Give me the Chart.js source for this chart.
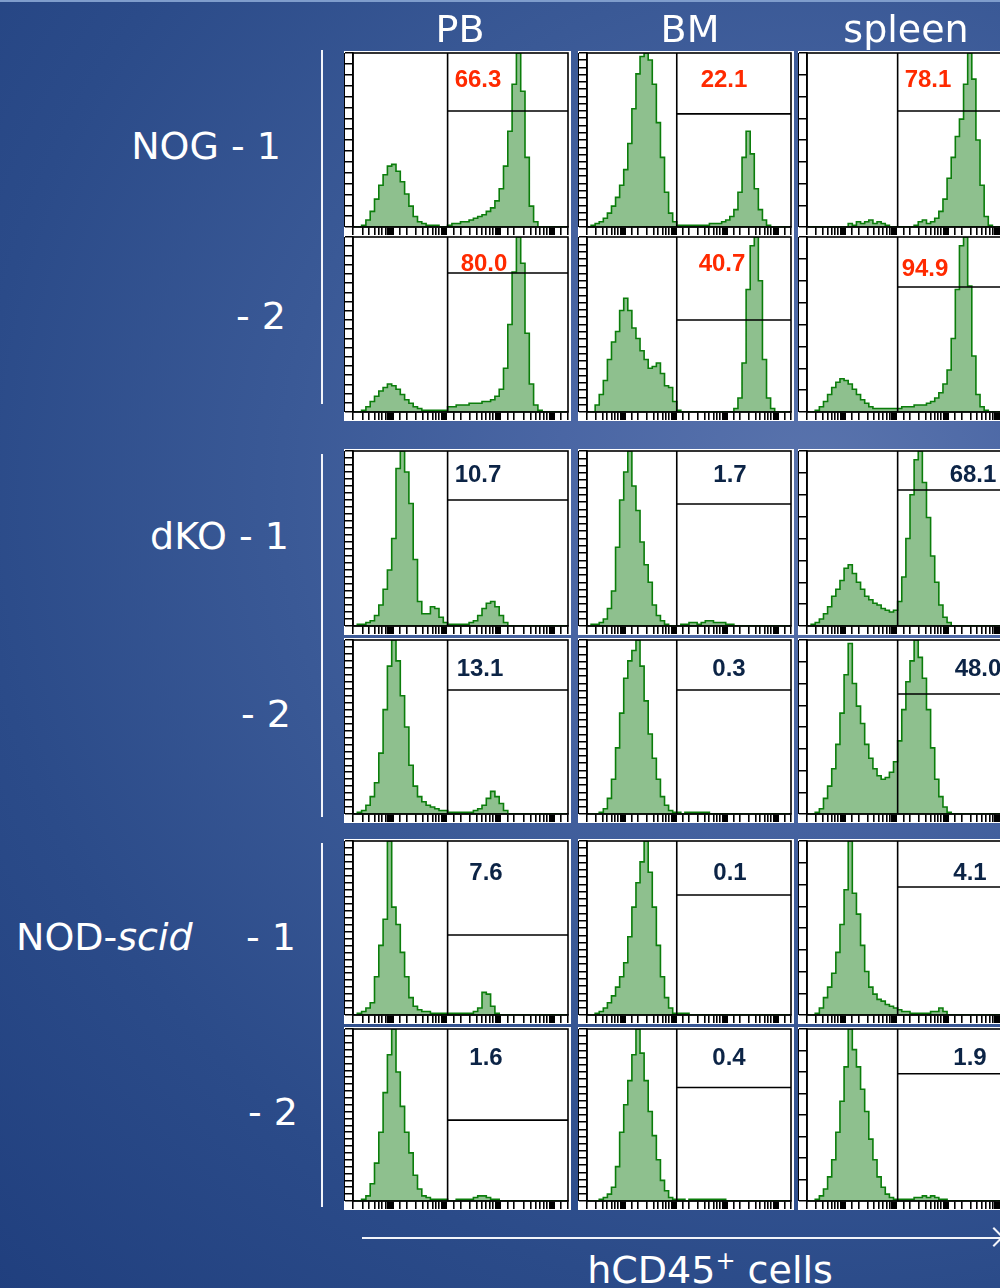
<!DOCTYPE html>
<html>
<head>
<meta charset="utf-8">
<script src="https://cdn.jsdelivr.net/npm/chart.js@4.4.0/dist/chart.umd.min.js"></script>
<style>
  html, body { margin: 0; padding: 0; width: 1000px; height: 1288px; overflow: hidden; }
  #page {
    position: relative; width: 1000px; height: 1288px; overflow: hidden;
    border-top: 2px solid #7f9dcc; box-sizing: border-box;
    background: radial-gradient(ellipse 120% 90% at 82% 38%, #5a74ad 0%, #4a66a4 22%, #3a5996 45%, #2b4b89 70%, #1f3e7d 100%);
    font-family: "DejaVu Sans", Verdana, sans-serif; color: #fff;
  }
  #page canvas { position: absolute; background: #fff; }
  .txt { position: absolute; white-space: pre; }
  .big { font-size: 38px; line-height: 38px; }
  .pct { font-family: "Liberation Sans", Arial, sans-serif; font-weight: bold; font-size: 24px;
         line-height: 24px; transform: translate(-50%, -50%); }
  .vline { position: absolute; width: 2px; background: #f2f4fa; }
</style>
</head>
<body>
<div id="page"></div>
<script>
// tissues (columns) and mice (rows)
const tissues = ["PB", "BM", "spleen"];
const percents = [
  [66.3, 22.1, 78.1],
  [80.0, 40.7, 94.9],
  [10.7, 1.7, 68.1],
  [13.1, 0.3, 48.0],
  [7.6, 0.1, 4.1],
  [1.6, 0.4, 1.9]
];

// gate: threshold bin and height of the marker (per cent of the y range)
const gateBin = 22;
const gateHeights = [
  [66.7, 65, 66.7],
  [79.4, 52.6, 71.4],
  [72, 69.7, 77.7],
  [71.3, 71.3, 69],
  [46, 69, 73.6],
  [47, 66, 74]
];

// histograms, 50 bins each
const nog1PB = [0,0,1,4,9,16,24,30,35,36, 32,26,19,12,6,3,2,1,1,1, 0,0,1,2,2,3,3,4,5,6, 7,9,11,15,22,35,55,82,100,78, 40,12,3,0,0,0,0,0,0,0];
const nog1BM = [0,1,2,3,5,8,12,17,24,33, 48,68,88,98,100,96,82,60,40,20, 8,3,1,1,1,1,1,1,1,1, 2,2,2,3,4,6,10,20,40,55, 42,22,10,4,1,0,0,0,0,0];
const nog1Spleen = [0,0,0,0,0,0,0,0,0,0, 2,1,3,2,3,4,2,3,2,1, 0,0,0,0,0,0,1,3,4,2, 3,5,9,16,28,40,52,62,82,100, 85,50,24,6,1,0,0,0,0,0];

const nog2PB = [0,0,1,3,6,9,12,14,16,15, 13,10,7,5,3,2,1,1,1,1, 1,1,3,3,4,4,4,5,5,5, 6,6,7,9,13,25,50,80,100,85, 45,16,4,1,0,0,0,0,0,0];
const nog2BM = [0,0,4,10,18,30,40,46,58,65, 58,48,42,35,30,25,26,28,22,15, 14,6,1,0,0,0,0,0,0,0, 0,0,0,0,0,0,2,8,28,70, 95,100,75,30,8,2,0,0,0,0];
const nog2Spleen = [0,0,1,3,6,10,14,17,19,18, 16,13,10,7,5,3,2,2,2,2, 2,2,2,3,3,3,4,4,4,5, 6,8,11,16,24,42,70,95,100,72, 32,10,3,1,0,0,0,0,0,0];

const dko1PB = [0,1,1,2,3,6,12,21,32,50, 90,100,88,70,38,14,7,7,11,10, 5,2,1,1,1,1,1,2,3,6, 10,13,14,11,6,2,0,0,0,0, 0,0,0,0,0,0,0,0,0,0];
const dko1BM = [0,1,1,2,4,10,20,45,72,88, 100,80,66,48,35,25,12,6,3,1, 0,0,0,1,1,2,2,1,2,3, 3,2,2,2,1,1,0,0,0,0, 0,0,0,0,0,0,0,0,0,0];
const dko1Spleen = [0,1,2,4,7,11,17,21,26,33, 35,30,25,21,17,15,13,12,10,9, 8,9,14,28,50,75,95,100,82,62, 40,25,12,5,2,0,0,0,0,0, 0,0,0,0,0,0,0,0,0,0];

const dko2PB = [0,1,2,5,10,18,35,60,85,100, 88,68,50,28,16,10,7,5,4,3, 2,2,1,1,1,1,1,1,2,3, 5,9,13,10,6,2,0,0,0,0, 0,0,0,0,0,0,0,0,0,0];
const dko2BM = [0,0,0,1,3,9,20,38,58,78, 88,94,100,85,65,46,32,20,10,5, 2,1,1,0,1,1,1,1,1,1, 0,0,0,0,0,0,0,0,0,0, 0,0,0,0,0,0,0,0,0,0];
const dko2Spleen = [0,0,1,3,9,16,26,40,58,80, 98,75,62,52,40,32,26,22,20,21, 24,30,42,60,76,88,100,90,78,60, 38,20,10,4,1,0,0,0,0,0, 0,0,0,0,0,0,0,0,0,0];

const nod1PB = [0,1,2,4,7,22,40,55,100,62, 52,36,22,10,5,3,2,2,1,1, 1,1,1,1,1,1,1,1,2,4, 13,12,5,1,0,0,0,0,0,0, 0,0,0,0,0,0,0,0,0,0];
const nod1BM = [0,0,1,2,4,7,11,16,22,30, 45,62,76,88,100,82,62,40,22,10, 4,1,1,1,1,0,0,0,0,0, 0,0,0,0,0,0,0,0,0,0, 0,0,0,0,0,0,0,0,0,0];
const nod1Spleen = [0,0,1,4,10,16,24,36,52,72, 100,70,58,40,25,16,12,9,8,6, 5,4,3,2,2,1,1,1,1,1, 2,2,4,2,0,0,0,0,0,0, 0,0,0,0,0,0,0,0,0,0];

const nod2PB = [0,0,1,3,10,22,40,63,85,100, 75,55,40,28,15,7,3,2,1,1, 1,1,0,0,1,1,1,1,2,3, 3,2,1,1,0,0,0,0,0,0, 0,0,0,0,0,0,0,0,0,0];
const nod2BM = [0,0,0,1,2,4,8,20,40,56, 70,85,100,86,70,52,38,24,12,6, 2,1,1,1,0,1,1,1,1,1, 1,1,1,1,0,0,0,0,0,0, 0,0,0,0,0,0,0,0,0,0];
const nod2Spleen = [0,0,1,3,7,14,24,40,58,78, 100,88,78,65,52,36,24,14,8,4, 2,1,1,1,1,1,2,2,3,2, 3,2,1,1,0,0,0,0,0,0, 0,0,0,0,0,0,0,0,0,0];

const histograms = [
  [nog1PB, nog1BM, nog1Spleen],
  [nog2PB, nog2BM, nog2Spleen],
  [dko1PB, dko1BM, dko1Spleen],
  [dko2PB, dko2BM, dko2Spleen],
  [nod1PB, nod1BM, nod1Spleen],
  [nod2PB, nod2BM, nod2Spleen]
];

// ---- layout (pixels of the plot frames) ----
const colLeft = [353, 587, 807];
const colWidth = [215, 204, 206];
const rowTop = [51, 235, 449, 638, 839, 1027];
const rowHeight = [174, 175, 175, 174, 174, 172];
const pbTickSteps = [16, 19, 25, 25, 25, 25];
const pctPos = [
  [[478, 77], [724, 77], [928, 77]],
  [[484, 261], [722, 261], [925, 266]],
  [[478, 472], [730, 472], [973, 472]],
  [[480, 666], [729, 666], [978, 666]],
  [[486, 870], [730, 870], [970, 870]],
  [[486, 1055], [729, 1055], [970, 1055]]
];

const page = document.getElementById('page');

function addText(html, cls, css) {
  const d = document.createElement('div');
  d.className = 'txt ' + cls;
  d.innerHTML = html;
  Object.assign(d.style, css);
  page.appendChild(d);
  return d;
}

// decade ticks drawn as heavy blocks
function isDecade(v) {
  const e = Math.log10(v);
  return Math.abs(e - Math.round(e)) < 1e-9;
}

// frame + gate marker drawn on top of the histogram
const gatePlugin = {
  id: 'gates',
  afterDatasetsDraw(chart, args, opts) {
    const {ctx, chartArea: a, scales} = chart;
    const gx = scales.x.getPixelForValue(opts.bin);
    const gy = scales.y.getPixelForValue(opts.height);
    ctx.save();
    ctx.strokeStyle = '#000';
    ctx.lineWidth = 1.6;
    ctx.strokeRect(a.left, a.top, a.right - a.left, a.bottom - a.top);
    ctx.beginPath();
    ctx.moveTo(gx, a.top);
    ctx.lineTo(gx, a.bottom);
    ctx.moveTo(gx, gy);
    ctx.lineTo(a.right, gy);
    ctx.stroke();
    // outer rail of the y tick ladder
    ctx.lineWidth = 1;
    ctx.beginPath();
    ctx.moveTo(a.left - 8.5, a.top);
    ctx.lineTo(a.left - 8.5, a.bottom);
    ctx.stroke();
    ctx.restore();
  }
};

histograms.forEach((row, r) => {
  row.forEach((counts, c) => {
    const cv = document.createElement('canvas');
    cv.width = colWidth[c] + 12;
    cv.height = rowHeight[r] + 11;
    cv.style.left = (colLeft[c] - 9) + 'px';
    cv.style.top = (rowTop[r] - 2) + 'px';
    page.appendChild(cv);

    const ySteps = c === 0 ? pbTickSteps[r] : (c === 1 ? 24 : 8);

    new Chart(cv, {
      type: 'line',
      data: {
        datasets: [{
          data: counts.map((v, i) => ({x: i + 0.5, y: v})),
          stepped: 'middle',
          fill: 'origin',
          backgroundColor: 'rgba(50,140,50,0.55)',
          borderColor: '#0b7d0b',
          borderWidth: 1.6,
          pointRadius: 0
        }]
      },
      options: {
        responsive: false,
        animation: false,
        devicePixelRatio: 1,
        layout: {padding: {top: 2, right: 3, left: 0, bottom: 0}},
        plugins: {
          legend: {display: false},
          tooltip: {enabled: false},
          gates: {bin: gateBin, height: gateHeights[r][c]}
        },
        scales: {
          x: {type: 'linear', min: 0, max: counts.length, display: false},
          xLog: {
            type: 'logarithmic', position: 'bottom', min: 2, max: 20000,
            ticks: {display: false},
            grid: {
              drawOnChartArea: false, tickLength: 8, color: '#000',
              lineWidth: ctx => (ctx.tick && isDecade(ctx.tick.value)) ? 6 : 1.6
            },
            border: {color: '#000', width: 1.6},
            afterFit: s => { s.height = 9; }
          },
          y: {
            min: 0, max: 100,
            ticks: {display: false, count: ySteps + 1},
            grid: {drawOnChartArea: false, tickLength: 8, color: '#000', lineWidth: 1.5},
            border: {color: '#000', width: 1.6},
            afterFit: s => { s.width = 9; }
          }
        }
      },
      plugins: [gatePlugin]
    });

    const [px, py] = pctPos[r][c];
    addText(percents[r][c].toFixed(1), 'pct', {
      left: px + 'px', top: py + 'px', color: r < 2 ? '#ff2a00' : '#0c2446'
    });
  });
});

// column headers
const headerX = [460, 690, 906];
tissues.forEach((t, i) => {
  addText(t, 'big', {left: headerX[i] + 'px', top: '8px', transform: 'translateX(-50%)'});
});

// row labels (right edge, baseline)
const rowLabels = [
  ['NOG - 1', 281, 157],
  ['- 2', 286, 327],
  ['dKO - 1', 289, 547],
  ['- 2', 291, 725],
  ['- 1', 296, 948],
  ['- 2', 298, 1123]
];
rowLabels.forEach(([t, right, base]) => {
  addText(t, 'big', {right: (1000 - right) + 'px', top: (base - 32) + 'px'});
});
addText('NOD-<i>scid</i>', 'big', {left: '16px', top: (948 - 32) + 'px'});

// group brackets
[[48, 402], [452, 815], [841, 1205]].forEach(([y0, y1]) => {
  const v = document.createElement('div');
  v.className = 'vline';
  Object.assign(v.style, {left: '321px', top: y0 + 'px', height: (y1 - y0) + 'px'});
  page.appendChild(v);
});

// x axis arrow and title
const axisLine = document.createElement('div');
Object.assign(axisLine.style, {position: 'absolute', left: '362px', top: '1235px', width: '640px', height: '2px', background: '#f2f4fa'});
page.appendChild(axisLine);
const head = document.createElement('div');
Object.assign(head.style, {position: 'absolute', left: '987px', top: '1228px', width: '12px', height: '12px',
  borderTop: '2px solid #f2f4fa', borderRight: '2px solid #f2f4fa', transform: 'rotate(45deg)'});
page.appendChild(head);
addText('hCD45<span style="font-size:24px;position:relative;top:-14px">+</span> cells', 'big',
  {left: '710px', top: (1281 - 32) + 'px', transform: 'translateX(-50%)'});
</script>
</body>
</html>
